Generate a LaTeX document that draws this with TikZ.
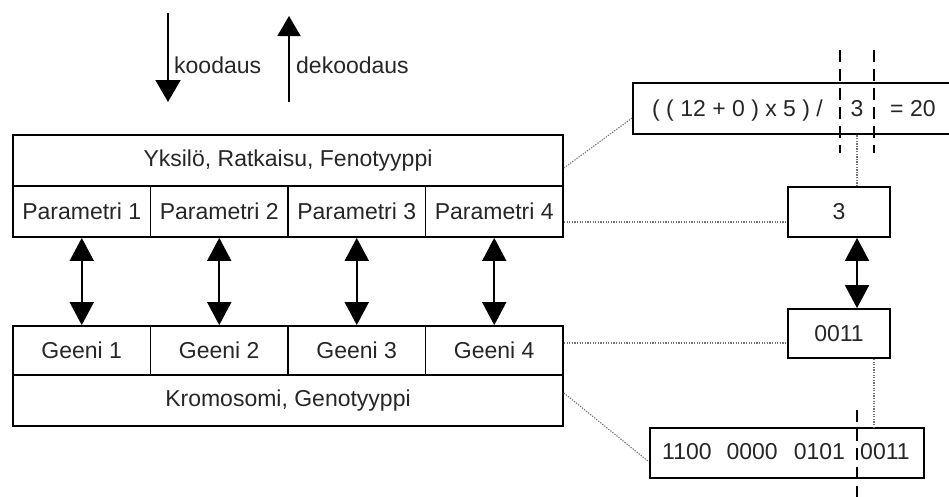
\documentclass[tikz,border=0pt]{standalone}
\usepackage{fontspec}
\setmainfont{Liberation Sans}
\usetikzlibrary{arrows.meta}

\tikzset{
  txt/.style={font=\fontsize{23}{27}\selectfont, text=black!85, inner sep=0pt},
  box/.style={txt, draw=black, line width=1.8pt, rectangle, inner sep=0pt},
  shaft/.style={line width=1.8pt, draw=black},
  dblarrow/.style={shaft, {Triangle[width=24pt,length=23pt]}-{Triangle[width=24pt,length=23pt]}},
  dotline/.style={draw=black!55, line width=1.1pt, dash pattern=on 1.3pt off 1.3pt},
  cutline/.style={draw=black, line width=1.6pt, dash pattern=on 12pt off 7pt},
}

\begin{document}
\begin{tikzpicture}[x=1pt,y=-1pt]
  \useasboundingbox (0,0) rectangle (949,496);

  % encode / decode direction arrows
  \coordinate (kA) at (168,13);
  \coordinate (kB) at (168,102);
  \coordinate (dA) at (289,102);
  \coordinate (dB) at (289,16);
  \draw[shaft, -{Triangle[width=25pt,length=22pt]}] (kA) -- (kB);
  \draw[shaft, -{Triangle[width=23pt,length=20pt]}] (dA) -- (dB);
  \node[txt, anchor=base west] (koodaus) at (174,73) {koodaus};
  \node[txt, anchor=base west] (dekoodaus) at (296,73) {dekoodaus};

  % phenotype side
  \node[box, minimum width=550pt, minimum height=51pt] (ind) at (288,160.5) {Yksilö, Ratkaisu, Fenotyyppi};
  \node[box, minimum width=137.5pt, minimum height=51pt] (p1) at (81.75,211.5) {Parametri 1};
  \node[box, minimum width=137.5pt, minimum height=51pt] (p2) at (219.25,211.5) {Parametri 2};
  \node[box, minimum width=137.5pt, minimum height=51pt] (p3) at (356.75,211.5) {Parametri 3};
  \node[box, minimum width=137.5pt, minimum height=51pt] (p4) at (494.25,211.5) {Parametri 4};

  % genotype side
  \node[box, minimum width=137.5pt, minimum height=49pt] (g1) at (81.75,350.5) {Geeni 1};
  \node[box, minimum width=137.5pt, minimum height=49pt] (g2) at (219.25,350.5) {Geeni 2};
  \node[box, minimum width=137.5pt, minimum height=49pt] (g3) at (356.75,350.5) {Geeni 3};
  \node[box, minimum width=137.5pt, minimum height=49pt] (g4) at (494.25,350.5) {Geeni 4};
  \node[box, minimum width=550pt, minimum height=51pt] (krom) at (288,400.5) {Kromosomi, Genotyyppi};

  \foreach \i in {1,2,3,4} {
    \draw[dblarrow] (p\i.south) -- (g\i.north);
  }

  % worked example: expression
  \node[box, minimum width=320pt, minimum height=51pt] (eq) at (793,108.5) {};
  \node[txt, anchor=base west] (expr) at (652,116) {( ( 12 + 0 ) x 5 ) /};
  \node[txt, anchor=base] (three) at (857,116) {3};
  \node[txt, anchor=base west] (result) at (890,116) {= 20};
  \coordinate (cutL1) at (840,50);
  \coordinate (cutL2) at (840,153);
  \coordinate (cutR1) at (874,50);
  \coordinate (cutR2) at (874,153);
  \draw[cutline] (cutL1) -- (cutL2);
  \draw[cutline] (cutR1) -- (cutR2);

  % worked example: parameter value and its gene
  \node[box, minimum width=102pt, minimum height=50pt] (b3) at (839,212) {3};
  \node[box, minimum width=102pt, minimum height=49pt] (c0011) at (839,333.5) {0011};
  \draw[dblarrow] ([xshift=18pt]b3.south) -- ([xshift=18pt]c0011.north);

  % worked example: whole chromosome
  \node[box, minimum width=274pt, minimum height=50pt] (bits) at (787,453) {};
  \node[txt, anchor=base west] (bitsA) at (662,459) {1100\hspace{15pt}0000\hspace{16pt}0101};
  \node[txt, anchor=base west] (bitsB) at (860,459) {0011};
  \coordinate (cutB1) at (857,410);
  \coordinate (cutB2) at (857,500);
  \draw[cutline] (cutB1) -- (cutB2);

  % dotted correspondence lines
  \draw[dotline] ([yshift=-7.5pt]ind.east) -- ([yshift=-9.5pt]eq.west);
  \draw[dotline] ([xshift=18pt]b3.north) -- ([xshift=18pt]b3.north |- eq.south);
  \draw[dotline] ([yshift=-10.5pt]p4.east) -- ([yshift=-10.5pt]p4.east -| b3.west);
  \draw[dotline] ([yshift=7.5pt]g4.east) -- ([yshift=7.5pt]g4.east -| c0011.west);
  \draw[dotline] ([xshift=35pt]c0011.south) -- ([xshift=35pt]c0011.south |- bits.north);
  \draw[dotline] ([yshift=7.5pt]krom.east) -- ([yshift=-9pt]bits.west);
\end{tikzpicture}
\end{document}
